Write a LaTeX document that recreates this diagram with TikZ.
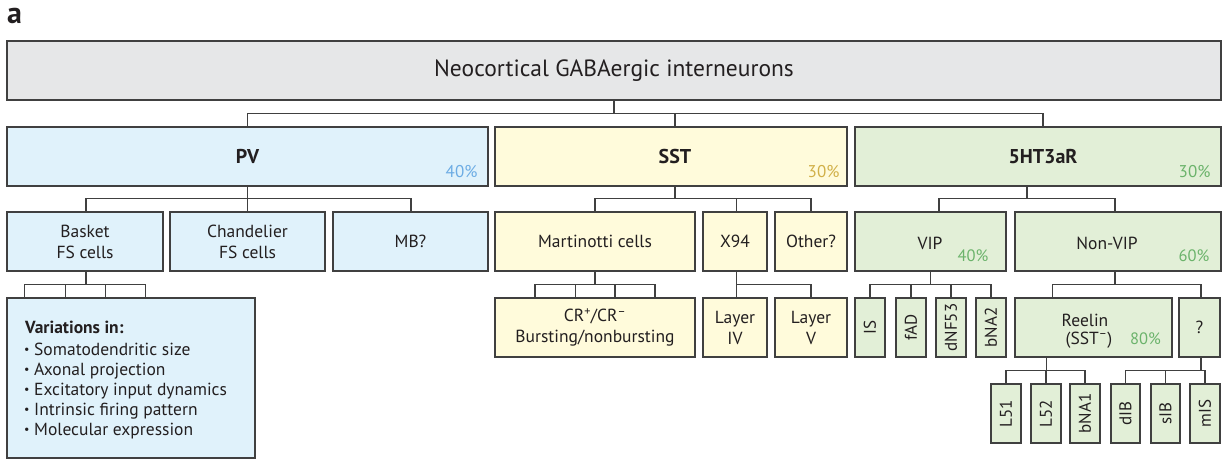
\documentclass[tikz,border=0pt]{standalone}
\usepackage{fontspec}
\setmainfont{PT Sans}
\usetikzlibrary{calc}
\definecolor{ink}{HTML}{231F20}
\definecolor{edge}{HTML}{404040}
\definecolor{hdrfill}{HTML}{E6E7E8}
\definecolor{pvfill}{HTML}{E0F2FB}
\definecolor{sstfill}{HTML}{FFFBDB}
\definecolor{grnfill}{HTML}{E2EFD7}
\definecolor{pvpct}{HTML}{6CACE4}
\definecolor{sstpct}{HTML}{D1B048}
\definecolor{grnpct}{HTML}{6BB36B}
\newcommand\bx[7]{\node[box,fill=#6,minimum width={#4-#2},minimum height={#5-#3}] (#1) at ({(#2+#4)/2},{(#3+#5)/2}) {#7};}
\newcommand\lnk[2]{\draw[conn] (#2) -- ++(0,-13) -| (#1);}
\newcommand\bul{\makebox[10pt][l]{\raisebox{.15ex}{\fontsize{12}{12}\selectfont•}}}
\begin{document}
\begin{tikzpicture}[x=1pt,y=-1pt,
  box/.style={draw=edge,line width=1.2pt,inner sep=0pt,align=center,text=ink,
    font=\fontsize{17.5}{21}\selectfont},
  conn/.style={draw=edge,line width=1.2pt},
  txt/.style={text=ink,font=\fontsize{17.5}{21}\selectfont,inner sep=0pt},
  pct/.style={font=\fontsize{17}{17}\selectfont,anchor=base east,inner sep=0pt},
  spct/.style={font=\fontsize{16.5}{16.5}\selectfont,anchor=base east,inner sep=0pt,text=grnpct},
  vt/.style={rotate=90,text=ink,font=\fontsize{17}{19}\selectfont,inner sep=0pt},
  big/.style={font=\bfseries\fontsize{20}{24}\selectfont}]
\useasboundingbox (0,0) rectangle (1228,459);
\node[font=\bfseries\fontsize{30}{30}\selectfont,anchor=base west,inner sep=0pt,text=ink] (lbl) at (7,23) {a};
% level 0
\bx{hdr}{7}{41}{1221}{100}{hdrfill}{\fontsize{23.5}{28}\selectfont Neocortical GABAergic interneurons}
% level 1
\bx{pv}{7}{127}{488}{186}{pvfill}{\bfseries\fontsize{20}{24}\selectfont PV}
\bx{sst}{495}{127}{847}{186}{sstfill}{}
\node[big,text=ink] (sstt) at ([xshift=4pt]sst.center) {SST};
\bx{ht}{855}{127}{1221}{186}{grnfill}{}
\node[big,text=ink] (htt) at ([xshift=5pt]ht.center) {5HT3aR};
\node[pct,text=pvpct] (pvp) at ([xshift=-11pt,yshift=9pt]pv.south east) {40\%};
\node[pct,text=sstpct] (sstp) at ([xshift=-8pt,yshift=9pt]sst.south east) {30\%};
\node[pct,text=grnpct] (htp) at ([xshift=-11pt,yshift=9pt]ht.south east) {30\%};
% level 2
\bx{basket}{7}{212}{163}{271}{pvfill}{Basket\\FS cells}
\bx{chand}{170}{212}{325}{271}{pvfill}{Chandelier\\FS cells}
\bx{mb}{333}{212}{488}{271}{pvfill}{MB?}
\bx{mart}{495}{212}{695}{271}{sstfill}{Martinotti cells}
\bx{x94}{703}{212}{767}{271}{sstfill}{X94}
\bx{other}{775}{212}{847}{271}{sstfill}{Other?}
\bx{vip}{855}{212}{1006}{271}{grnfill}{}
\node[txt,anchor=base] (vipt) at (930,249) {VIP};
\node[spct] (vipp) at ([xshift=-18pt,yshift=10pt]vip.south east) {40\%};
\bx{nonvip}{1015}{212}{1221}{271}{grnfill}{}
\node[txt,anchor=base] (nonvipt) at (1107,249) {Non-VIP};
\node[spct] (nonvipp) at ([xshift=-12pt,yshift=10pt]nonvip.south east) {60\%};
% level 3
\bx{var}{7}{298}{255}{458}{pvfill}{}
\node[txt,anchor=base west] (var1) at (25,333) {\textbf{Variations in:}};
\node[txt,anchor=base west] (var2) at (24,355) {\bul Somatodendritic size};
\node[txt,anchor=base west] (var3) at (24,375) {\bul Axonal projection};
\node[txt,anchor=base west] (var4) at (24,395) {\bul Excitatory input dynamics};
\node[txt,anchor=base west] (var5) at (24,415) {\bul Intrinsic firing pattern};
\node[txt,anchor=base west] (var6) at (24,435) {\bul Molecular expression};
\bx{crb}{495}{298}{695}{357}{sstfill}{CR\textsuperscript{+}/CR\textsuperscript{–}\\Bursting/nonbursting}
\bx{lay4}{703}{298}{767}{357}{sstfill}{Layer\\IV}
\bx{lay5}{775}{298}{847}{357}{sstfill}{Layer\\V}
\bx{is}{855}{298}{885}{357}{grnfill}{}
\bx{fad}{896}{298}{926}{357}{grnfill}{}
\bx{dnf}{936}{298}{966}{357}{grnfill}{}
\bx{bna2}{976}{298}{1006}{357}{grnfill}{}
\node[vt] (ist) at (is.center) {IS};
\node[vt] (fadt) at (fad.center) {fAD};
\node[vt] (dnft) at (dnf.center) {dNF53};
\node[vt] (bna2t) at (bna2.center) {bNA2};
\bx{reelin}{1015}{298}{1172}{357}{grnfill}{}
\node[txt,anchor=base] (reelt1) at (1085,326) {Reelin};
\node[txt,anchor=base] (reelt2) at (1089,344) {(SST\textsuperscript{–})};
\node[spct] (reelp) at (1161,344) {80\%};
\bx{q}{1179}{298}{1220}{357}{grnfill}{?}
% level 4
\bx{l51}{991}{384}{1021}{443}{grnfill}{}
\bx{l52}{1031}{384}{1061}{443}{grnfill}{}
\bx{bna1}{1070}{384}{1100}{443}{grnfill}{}
\bx{dib}{1111}{384}{1140}{443}{grnfill}{}
\bx{sib}{1151}{384}{1180}{443}{grnfill}{}
\bx{mis}{1190}{384}{1220}{443}{grnfill}{}
\node[vt] (l51t) at (l51.center) {L51};
\node[vt] (l52t) at (l52.center) {L52};
\node[vt] (bna1t) at (bna1.center) {bNA1};
\node[vt] (dibt) at (dib.center) {dIB};
\node[vt] (sibt) at (sib.center) {sIB};
\node[vt] (mist) at (mis.center) {mIS};
% connectors
\lnk{hdr.south}{pv.north}
\lnk{hdr.south}{[xshift=4pt]sst.north}
\lnk{hdr.south}{[xshift=5pt]ht.north}
\lnk{pv.south}{[xshift=1pt]basket.north}
\lnk{pv.south}{chand.north}
\lnk{pv.south}{[xshift=0.5pt]mb.north}
\lnk{[xshift=4pt]sst.south}{mart.north}
\lnk{[xshift=4pt]sst.south}{[xshift=1.5pt]x94.north}
\lnk{[xshift=4pt]sst.south}{other.north}
\lnk{[xshift=-11pt]ht.south}{[xshift=8.5pt]vip.north}
\lnk{[xshift=-11pt]ht.south}{[xshift=-3pt]nonvip.north}
\coordinate (v1) at ([xshift=18pt]var.north west);
\coordinate (v2) at ([xshift=59pt]var.north west);
\coordinate (v3) at ([xshift=99pt]var.north west);
\coordinate (v4) at ([xshift=139pt]var.north west);
\lnk{[xshift=1pt]basket.south}{v1}
\lnk{[xshift=1pt]basket.south}{v2}
\lnk{[xshift=1pt]basket.south}{v3}
\lnk{[xshift=1pt]basket.south}{v4}
\coordinate (c1) at ([xshift=-60pt]crb.north);
\coordinate (c2) at ([xshift=-19.5pt]crb.north);
\coordinate (c3) at ([xshift=20pt]crb.north);
\coordinate (c4) at ([xshift=60pt]crb.north);
\lnk{mart.south}{c1}
\lnk{mart.south}{c2}
\lnk{mart.south}{c3}
\lnk{mart.south}{c4}
\lnk{[xshift=1.5pt]x94.south}{[xshift=1.5pt]lay4.north}
\lnk{[xshift=1.5pt]x94.south}{[xshift=0pt]lay5.north}
\lnk{vip.south}{is.north}
\lnk{vip.south}{fad.north}
\lnk{vip.south}{dnf.north}
\lnk{vip.south}{bna2.north}
\lnk{[xshift=-3pt]nonvip.south}{[xshift=38pt]reelin.north west}
\lnk{[xshift=-3pt]nonvip.south}{[xshift=1.5pt]q.north}
\lnk{[xshift=32pt]reelin.south west}{l51.north}
\lnk{[xshift=32pt]reelin.south west}{l52.north}
\lnk{[xshift=32pt]reelin.south west}{bna1.north}
\lnk{[xshift=1.5pt]q.south}{dib.north}
\lnk{[xshift=1.5pt]q.south}{sib.north}
\lnk{[xshift=1.5pt]q.south}{mis.north}
\end{tikzpicture}
\end{document}
